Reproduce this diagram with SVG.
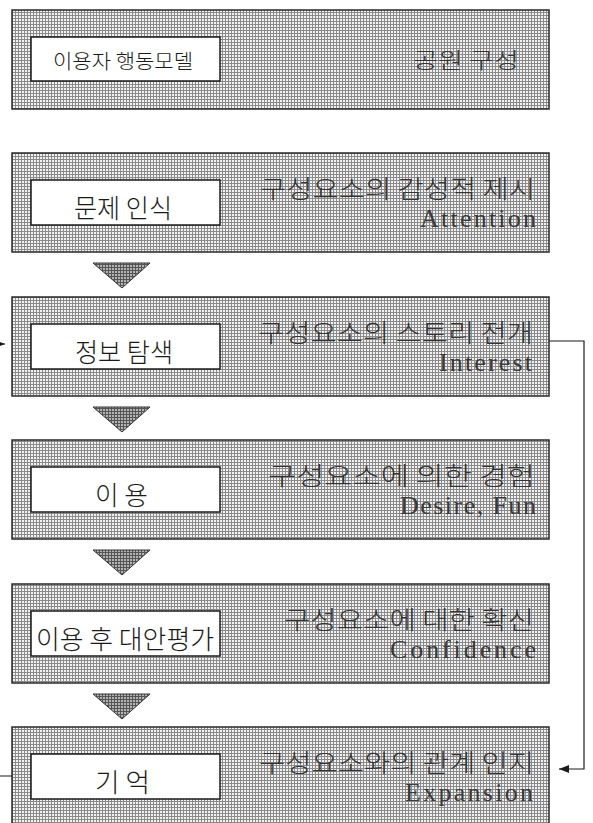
<svg xmlns="http://www.w3.org/2000/svg" width="593" height="823" viewBox="0 0 593 823">
  <style>
    .band{fill:url(#mesh);stroke:#2a2a2a;stroke-width:1.5}
    .box{fill:#fff;stroke:#1a1a1a;stroke-width:1.5}
    .bt{font-family:"Noto Sans CJK KR","Noto Sans",sans-serif;font-size:26px;font-weight:300;fill:#1a1a1a}
    .rk{font-family:"Noto Sans CJK KR","Noto Sans",sans-serif;font-size:25px;font-weight:300;fill:#333}
    .rl{font-family:"Liberation Serif","Noto Sans CJK KR",serif;font-size:26px;fill:#3a3a3a}
    .tri{fill:url(#meshdark);stroke:#333;stroke-width:1}
    .conn{fill:none;stroke:#1a1a1a;stroke-width:1.2}
  </style>
  <defs>
    <pattern id="mesh" width="3" height="3" patternUnits="userSpaceOnUse">
      <rect width="3" height="3" fill="#f2f2f2"/>
      <rect width="3" height="1" fill="#8a8a8a"/>
      <rect width="1" height="3" fill="#8a8a8a"/>
    </pattern>
    <pattern id="meshdark" width="3" height="3" patternUnits="userSpaceOnUse">
      <rect width="3" height="3" fill="#b4b4b4"/>
      <rect width="3" height="1" fill="#555"/>
      <rect width="1" height="3" fill="#555"/>
    </pattern>
    <marker id="ah" viewBox="0 0 10 8" refX="10" refY="4" markerWidth="10" markerHeight="8" markerUnits="userSpaceOnUse" orient="auto">
      <path d="M0,0 L10,4 L0,8 Z" fill="#1a1a1a"/>
    </marker>
  </defs>

  <g id="node-header">
    <rect class="band" x="12" y="10" width="537" height="99"/>
    <rect class="box" x="31" y="37" width="189" height="44"/>
    <text class="bt" x="53" y="69" style="font-size:20px" textLength="140" lengthAdjust="spacingAndGlyphs">이용자 행동모델</text>
    <text class="rk" x="413" y="68" style="font-size:22px" textLength="106" lengthAdjust="spacingAndGlyphs">공원 구성</text>
  </g>

  <g id="node-attention">
    <rect class="band" x="12" y="153" width="537" height="99"/>
    <rect class="box" x="31" y="180" width="189" height="45"/>
    <text class="bt" x="74" y="218" textLength="98" lengthAdjust="spacingAndGlyphs">문제 인식</text>
    <text class="rk" x="260" y="198" textLength="275" lengthAdjust="spacingAndGlyphs">구성요소의 감성적 제시</text>
    <text class="rl" x="420" y="227" textLength="116" lengthAdjust="spacing">Attention</text>
  </g>

  <g id="node-interest">
    <rect class="band" x="12" y="297" width="537" height="99"/>
    <rect class="box" x="31" y="324" width="189" height="45"/>
    <text class="bt" x="75" y="362" textLength="98" lengthAdjust="spacingAndGlyphs">정보 탐색</text>
    <text class="rk" x="258" y="342" textLength="275" lengthAdjust="spacingAndGlyphs">구성요소의 스토리 전개</text>
    <text class="rl" x="439" y="371" textLength="93" lengthAdjust="spacing">Interest</text>
  </g>

  <g id="node-desire">
    <rect class="band" x="12" y="440" width="537" height="99"/>
    <rect class="box" x="31" y="467" width="189" height="45"/>
    <text class="bt" x="95" y="505" textLength="53" lengthAdjust="spacingAndGlyphs">이 용</text>
    <text class="rk" x="268" y="485" textLength="267" lengthAdjust="spacingAndGlyphs">구성요소에 의한 경험</text>
    <text class="rl" x="400" y="514" textLength="136" lengthAdjust="spacing">Desire, Fun</text>
  </g>

  <g id="node-confidence">
    <rect class="band" x="12" y="584" width="537" height="99"/>
    <rect class="box" x="31" y="611" width="189" height="45"/>
    <text class="bt" x="36" y="649" textLength="178" lengthAdjust="spacingAndGlyphs">이용 후 대안평가</text>
    <text class="rk" x="284" y="629" textLength="250" lengthAdjust="spacingAndGlyphs">구성요소에 대한 확신</text>
    <text class="rl" x="390" y="658" textLength="146" lengthAdjust="spacing">Confidence</text>
  </g>

  <g id="node-expansion">
    <rect class="band" x="12" y="727" width="537" height="99"/>
    <rect class="box" x="31" y="754" width="189" height="45"/>
    <text class="bt" x="95" y="792" textLength="55" lengthAdjust="spacingAndGlyphs">기 억</text>
    <text class="rk" x="259" y="772" textLength="275" lengthAdjust="spacingAndGlyphs">구성요소와의 관계 인지</text>
    <text class="rl" x="405" y="801" textLength="128" lengthAdjust="spacing">Expansion</text>
  </g>

  <g id="connectors">
    <polygon class="tri" points="93,263 150,263 122,288"/>
    <polygon class="tri" points="93,407 150,407 122,432"/>
    <polygon class="tri" points="93,550 150,550 122,575"/>
    <polygon class="tri" points="93,694 150,694 122,719"/>
    <path class="conn" d="M549,341 H584 V769 H559" marker-end="url(#ah)"/>
    <path class="conn" d="M12,776 H-4 V344 H5" marker-end="url(#ah)"/>
  </g>
</svg>
